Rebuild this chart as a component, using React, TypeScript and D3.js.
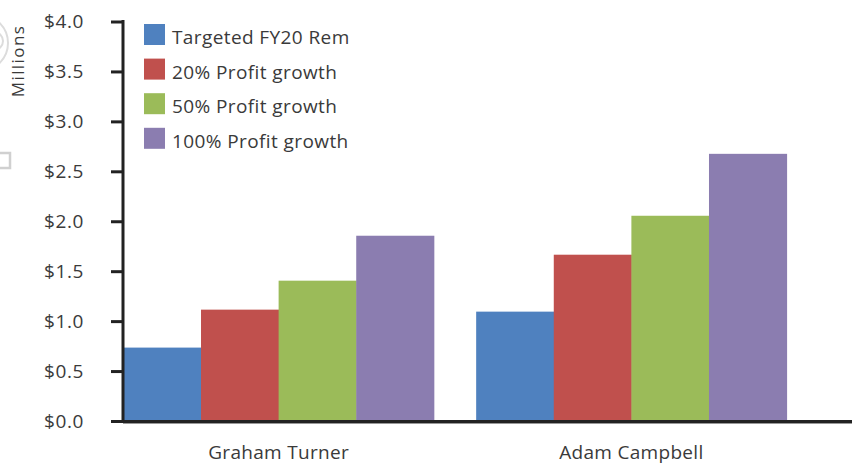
import React from 'react';
import * as d3 from 'd3';

// chart data (values in $ millions)
const categories = ['Graham Turner', 'Adam Campbell'];
const seriesNames = ['Targeted FY20 Rem', '20% Profit growth', '50% Profit growth', '100% Profit growth'];
const grahamValues = [0.74, 1.12, 1.41, 1.86];
const adamValues = [1.1, 1.67, 2.06, 2.68];
const yTickValues = [0, 0.5, 1, 1.5, 2, 2.5, 3, 3.5, 4];
const seriesColors = ['#4F81BF', '#C0504D', '#9BBB59', '#8B7DB0'];

const width = 852;
const height = 464;
const font = "'Open Sans', 'Noto Sans', sans-serif";
const textColor = '#3a3a3a';

const App = () => {
  const rows = [grahamValues, adamValues];

  const y = d3.scaleLinear().domain([0, 4]).range([421.5, 22]);

  const x0 = d3.scaleBand<string>()
    .domain(categories)
    .range([104, 806])
    .paddingInner(0.12)
    .paddingOuter(0.055);

  const x1 = d3.scaleBand<string>()
    .domain(seriesNames)
    .range([0, x0.bandwidth()])
    .padding(0);

  const axisX = 123;
  const baseY = y(0);

  return (
    <svg width={width} height={height} style={{ position: 'absolute', left: 0, top: 0, background: '#fff' }}>
      {/* clipped decorations at the left edge */}
      <circle cx={-20} cy={43} r={28} fill="none" stroke="#dcdcdc" strokeWidth={2} />
      <circle cx={-6} cy={41} r={9} fill="none" stroke="#dcdcdc" strokeWidth={2} />
      <rect x={-5} y={153} width={15} height={15} fill="none" stroke="#d0d0d0" strokeWidth={2.5} />

      {/* bars */}
      {categories.map((cat, ci) => (
        <g key={cat} transform={`translate(${x0(cat)},0)`}>
          {seriesNames.map((s, si) => (
            <rect
              key={s}
              x={x1(s)}
              y={y(rows[ci][si])}
              width={x1.bandwidth() + 0.5}
              height={baseY - y(rows[ci][si])}
              fill={seriesColors[si]}
            />
          ))}
        </g>
      ))}

      {/* y axis */}
      <line x1={axisX} x2={axisX} y1={y(4) - 2} y2={baseY + 1.5} stroke="#222" strokeWidth={3} />
      {yTickValues.map(t => (
        <g key={t}>
          <line x1={111} x2={axisX} y1={y(t)} y2={y(t)} stroke="#222" strokeWidth={3} />
          <text
            x={84}
            y={y(t) + 6}
            textAnchor="end"
            fontFamily={font}
            fontSize={19}
            letterSpacing={0.6}
            fill={textColor}
          >
            {d3.format('$.1f')(t)}
          </text>
        </g>
      ))}

      {/* x axis */}
      <line x1={axisX - 1.5} x2={width} y1={baseY} y2={baseY} stroke="#222" strokeWidth={3} />
      <line x1={axisX} x2={width} y1={baseY + 2} y2={baseY + 2} stroke="#999" strokeWidth={1} />
      {categories.map(cat => (
        <text
          key={cat}
          x={(x0(cat) ?? 0) + x0.bandwidth() / 2}
          y={459}
          textAnchor="middle"
          fontFamily={font}
          fontSize={19}
          letterSpacing={0.3}
          fill={textColor}
        >
          {cat}
        </text>
      ))}

      {/* y axis title */}
      <text
        transform="translate(24,61) rotate(-90)"
        textAnchor="middle"
        fontFamily={font}
        fontSize={17}
        letterSpacing={1.4}
        fill={textColor}
      >
        Millions
      </text>

      {/* legend */}
      <g transform="translate(144,24)">
        {seriesNames.map((s, i) => (
          <g key={s} transform={`translate(0,${i * 34.6})`}>
            <rect x={0} y={0} width={21} height={21} fill={seriesColors[i]} />
            <text
              x={28}
              y={20}
              fontFamily={font}
              fontSize={19}
              letterSpacing={0.4}
              fill={textColor}
            >
              {s}
            </text>
          </g>
        ))}
      </g>
    </svg>
  );
};

export default App;
